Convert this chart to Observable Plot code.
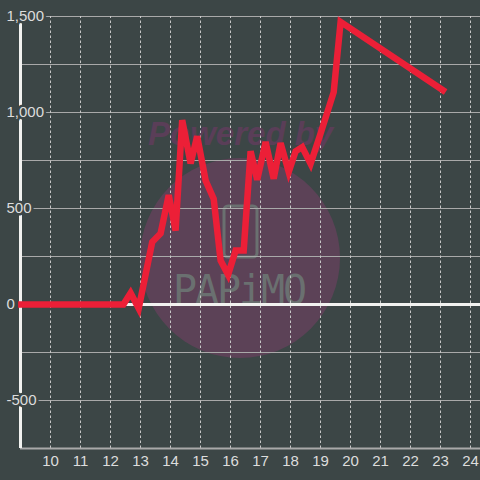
<!DOCTYPE html>
<html>
<head>
<meta charset="utf-8">
<script src="https://cdn.jsdelivr.net/npm/d3@7"></script>
<script src="https://cdn.jsdelivr.net/npm/@observablehq/plot@0.6"></script>
<style>
  html, body { margin: 0; padding: 0; background: #3c4646; }
</style>
</head>
<body>
<div id="chart"></div>
<script>
const hours = [8.92, 12.43, 12.67, 12.94, 13.39, 13.67, 13.94, 14.17, 14.39, 14.67, 14.89, 15.17, 15.44, 15.67, 15.92, 16.17, 16.44, 16.67, 16.89, 17.17, 17.44, 17.67, 17.94, 18.17, 18.39, 18.67, 19.0, 19.44, 19.67, 23.17];
const values = [0, 0, 60, -20, 325, 370, 570, 385, 960, 735, 876, 646, 550, 229, 155, 281, 281, 798, 650, 846, 655, 840, 690, 798, 820, 733, 889, 1106, 1472, 1107];
const xTicks = [10, 11, 12, 13, 14, 15, 16, 17, 18, 19, 20, 21, 22, 23, 24];
const yGrid = [-500, -250, 250, 500, 750, 1000, 1250, 1500];
const yTickValues = [-500, 0, 500, 1000, 1500];
const yTickLabels = ["-500", "0", "500", "1,000", "1,500"];

const bg = "#3c4646";
const data = hours.map((h, i) => ({h, v: values[i]}));
const yLabels = yTickValues.map((v, i) => ({v, label: yTickLabels[i]}));

const svg = Plot.plot({
  width: 480,
  height: 480,
  marginLeft: 20,
  marginRight: 0,
  marginTop: 16,
  marginBottom: 32,
  style: {background: bg, fontFamily: "'Liberation Sans', Arial, sans-serif", fontSize: "15px", color: "#dddddd"},
  x: {domain: [9, 9 + 460 / 30], axis: null},
  y: {domain: [-750, 1500], axis: null},
  marks: [
    Plot.ruleY(yGrid, {stroke: "#a9a9a9", strokeWidth: 1}),
    Plot.ruleX(xTicks, {y1: -750, y2: 1500, stroke: "#c8c8c8", strokeWidth: 1, strokeDasharray: "2.5,2.5"}),
    Plot.ruleY([-750], {stroke: "#a9a9a9", strokeWidth: 2}),
    Plot.ruleX([9], {y1: -750, y2: 1500, stroke: "#f2f2f0", strokeWidth: 3}),
    Plot.ruleY([0], {stroke: "#f2f2f0", strokeWidth: 3}),
    Plot.line(data, {x: "h", y: "v", stroke: "#ec1f37", strokeWidth: 6.5, strokeLinejoin: "miter", strokeMiterlimit: 4, strokeLinecap: "butt"}),
    Plot.text(yLabels, {x: 9, y: "v", text: "label", textAnchor: "start", dx: -14, fill: "#dddddd", stroke: bg, strokeWidth: 5, fontSize: 15}),
    Plot.text(xTicks, {x: d => d, y: -750, text: d => String(d), dy: 13, fill: "#dddddd", fontSize: 15})
  ]
});

// watermark (decoration, beneath the grid)
const wm = d3.select(svg).insert("g", ":first-child").attr("aria-label", "watermark").attr("text-anchor", "start");
wm.append("circle").attr("cx", 240).attr("cy", 258).attr("r", 100).attr("fill", "#5c4257");
wm.append("text").attr("x", 148).attr("y", 145).attr("text-anchor", "start")
  .attr("font-family", "'Liberation Sans', Arial, sans-serif").attr("font-weight", "bold").attr("font-style", "italic")
  .attr("font-size", 33).attr("fill", "#5a3e58").text("Powered by");
wm.append("rect").attr("x", 224).attr("y", 206).attr("width", 33).attr("height", 51).attr("rx", 4)
  .attr("fill", "none").attr("stroke", "#6a7070").attr("stroke-width", 3);
wm.append("text").attr("x", 173).attr("y", 304).attr("text-anchor", "start").attr("textLength", 134).attr("lengthAdjust", "spacing")
  .attr("font-family", "'DejaVu Sans Mono', monospace").attr("font-size", 40)
  .attr("fill", "#6a7070").text("PAPiMO");

document.getElementById("chart").appendChild(svg);
</script>
</body>
</html>
